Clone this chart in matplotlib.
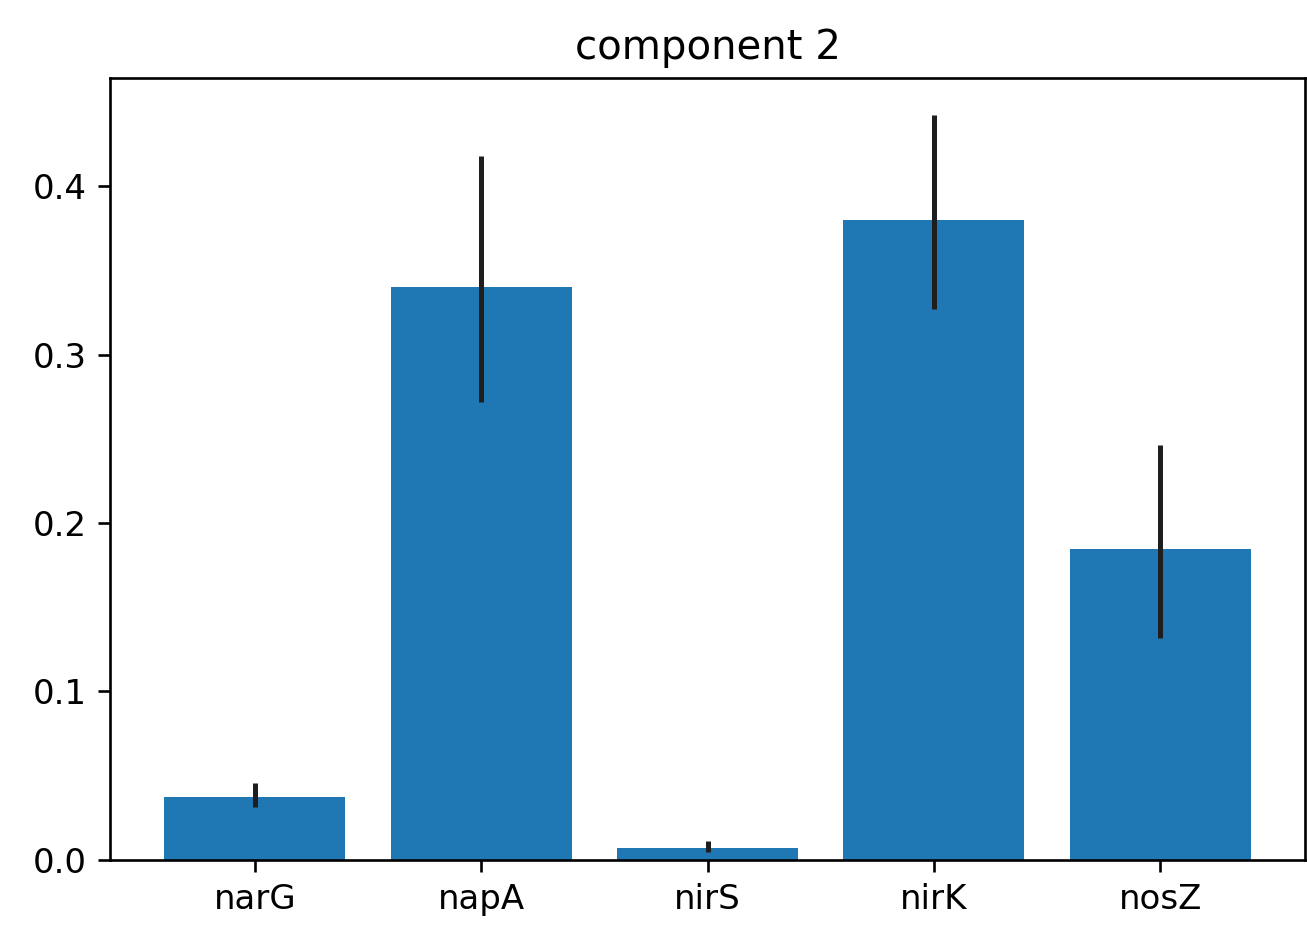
import numpy as np
import matplotlib
matplotlib.use("Agg")
import matplotlib.pyplot as plt

# values
genes = ['narG', 'napA', 'nirS', 'nirK', 'nosZ']
means = [0.0375, 0.340, 0.007, 0.380, 0.1845]
err_low = [0.0315, 0.272, 0.005, 0.327, 0.132]
err_high = [0.0455, 0.418, 0.011, 0.442, 0.246]

means_arr = np.array(means)
yerr = np.array([means_arr - np.array(err_low), np.array(err_high) - means_arr])

plt.rcParams['font.size'] = 24.5
plt.rcParams['axes.linewidth'] = 1.9
plt.rcParams['xtick.major.size'] = 8.5
plt.rcParams['ytick.major.size'] = 8.5
plt.rcParams['xtick.major.width'] = 1.9
plt.rcParams['ytick.major.width'] = 1.9
plt.rcParams['xtick.major.pad'] = 8
plt.rcParams['ytick.major.pad'] = 8

fig = plt.figure(figsize=(13.07, 9.38), dpi=100)
ax = fig.add_axes([0.0842, 0.0832, 0.9143, 0.8336])

x = np.arange(len(genes))
ax.bar(x, means, width=0.8, color='#1f77b4')
ax.errorbar(x, means, yerr=yerr, fmt='none', ecolor='#1e1e1e', elinewidth=3.6, capsize=0)

ax.set_xticks(x)
ax.set_xticklabels(genes)
ax.set_yticks([0.0, 0.1, 0.2, 0.3, 0.4])
ax.set_title('component 2', fontsize=29, pad=14)

fig.savefig('out.png', dpi=100)
